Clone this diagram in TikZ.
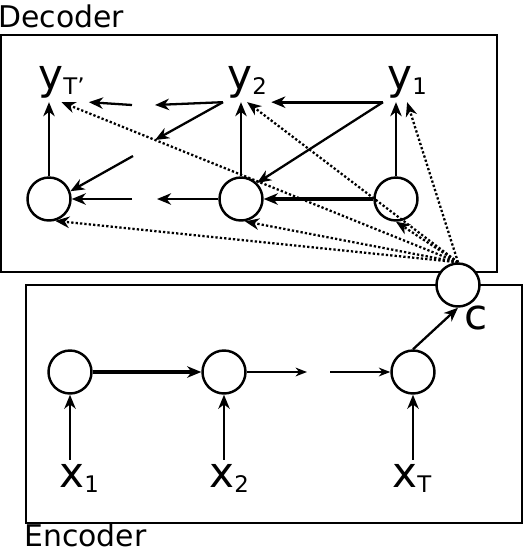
\documentclass[tikz,border=0pt]{standalone}
\usepackage{fontspec}
\setmainfont{DejaVu Sans}
\usepackage{tikz}
\usetikzlibrary{arrows.meta, positioning, calc}
\definecolor{rnnline}{RGB}{0, 0, 0}
\newcommand{\tok}[2]{{\fontsize{24}{26}\selectfont #1}\raisebox{-3pt}{\fontsize{13}{15}\selectfont #2}}

\begin{document}
\begin{tikzpicture}[
  x=0.02cm, y=-0.02cm,
  cell/.style={circle, draw=rnnline, line width=1.4pt, fill=white,
               minimum size=0.86cm, inner sep=0pt},
  tok/.style={inner sep=0pt, outer sep=2.5pt, anchor=base west},
  title/.style={inner sep=0pt, anchor=base west, font=\fontsize{17}{19}\selectfont},
  frame/.style={draw=rnnline, line width=1.3pt},
  arr/.style={-{Stealth[length=8pt, width=6.5pt, inset=2.5pt]}, color=rnnline, line width=1.3pt},
  heavy/.style={arr, line width=1.8pt},
  light/.style={-{Stealth[length=6.5pt, width=5pt, inset=2pt]}, color=rnnline, line width=0.9pt},
  ctx/.style={arr, line width=1.3pt, dash pattern=on 1.3pt off 1.2pt}
]
\useasboundingbox (0,0) rectangle (525,552);

% frames
\draw[frame] (1,35) rectangle (497,272);
\draw[frame] (26,285) rectangle (522,523);
\node[title] (dec) at (-2,27) {Decoder};
\node[title] (enc) at (24,546) {Encoder};

% encoder
\node[cell] (e1) at (70,372) {};
\node[cell] (e2) at (224,372) {};
\node[cell] (e3) at (413,372) {};
\node[tok] (x1) at (55,487) {\tok{x}{1}};
\node[tok] (x2) at (205,487) {\tok{x}{2}};
\node[tok] (xT) at (388,487) {\tok{x}{T}};
\coordinate (ge1) at (307,372);
\coordinate (ge2) at (330,372);

% context
\node[cell] (c) at (458,285) {};
\node[tok] (clbl) at (460,329) {\fontsize{24}{26}\selectfont c};

% decoder
\node[cell] (d1) at (49,199) {};
\node[cell] (d2) at (241,199) {};
\node[cell] (d3) at (396,199) {};
\node[tok] (yT) at (34,89) {\tok{y}{T'}};
\node[tok] (y2) at (223,89) {\tok{y}{2}};
\node[tok] (y1) at (383,89) {\tok{y}{1}};
\coordinate (gt1) at (155,105);
\coordinate (gt2) at (132,105);
\coordinate (gd1) at (155,140);
\coordinate (gd2) at (133,156);
\coordinate (gb1) at (157,199);
\coordinate (gb2) at (132,199);

\draw[arr] (e1 |- x1.north) -- (e1.south);
\draw[arr] (e2 |- x2.north) -- (e2.south);
\draw[arr] (e3 |- xT.north) -- (e3.south);
\draw[heavy] (e1.east) -- (e2.west);
\draw[light] (e2.east) -- (ge1);
\draw[light] (ge2) -- (e3.west);
\draw[arr] (e3.north) -- (c.south);

\draw[arr] (d1.north) -- (d1 |- yT.south);
\draw[arr] (d2.north) -- (d2 |- y2.south);
\draw[arr] (d3.north) -- (d3 |- y1.south);
\draw[heavy] (y1.south west) -- (y2.south east);
\draw[arr] (y1.south west) -- (d2.north east);
\draw[arr] (y2.south west) -- (gt1);
\draw[arr] (gt2) -- (yT.south east);
\draw[arr] (y2.south west) -- (gd1);
\draw[arr] (gd2) -- (d1.20);
\draw[heavy] (d3.west) -- (d2.east);
\draw[arr] (d2.west) -- (gb1);
\draw[arr] (gb2) -- (d1.east);

\foreach \dst in {yT.south, y2.south, y1.south, d1.-74, d2.-80, d3.-90}
  \draw[ctx] (c.north) -- (\dst);
\end{tikzpicture}
\end{document}
